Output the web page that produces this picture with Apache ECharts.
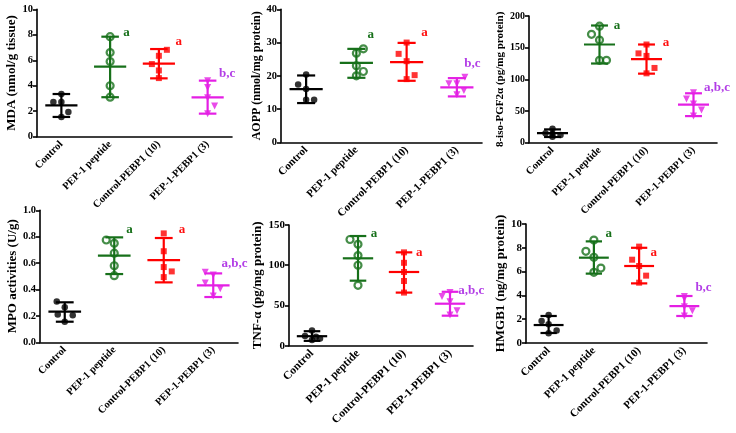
<!DOCTYPE html>
<html><head><meta charset="utf-8">
<script src="https://cdn.jsdelivr.net/npm/echarts@6/dist/echarts.min.js"></script>
<style>html,body{margin:0;padding:0;background:#fff}#c{width:736px;height:433px}</style>
</head><body><div id="c"></div>
<script>
// ---------------- DATA ----------------
const categories = ['Control', 'PEP-1 peptide', 'Control-PEBP1 (10)', 'PEP-1-PEBP1 (3)'];

const mdaPoints = [[3.35, 2.72, 2.72, 1.94, 1.55], [7.85, 6.6, 5.9, 4.0, 3.1], [6.82, 6.35, 5.7, 5.2, 4.6], [4.4, 3.87, 3.05, 2.41, 1.81]];
const mdaMean = [2.46, 5.5, 5.73, 3.09];
const mdaLow = [1.55, 3.1, 4.58, 1.81];
const mdaHigh = [3.35, 7.85, 6.88, 4.4];
const mdaLetters = ['', 'a', 'a', 'b,c'];

const aoppPoints = [[20.4, 17.4, 16.0, 12.8, 12.8], [28.1, 26.8, 23.0, 21.3, 20.0], [30.0, 26.6, 24.4, 20.2, 19.0], [19.6, 17.6, 17.6, 15.6, 14.3]];
const aoppMean = [16.0, 23.9, 24.1, 16.5];
const aoppLow = [11.8, 19.4, 18.5, 13.8];
const aoppHigh = [20.1, 28.1, 29.9, 19.3];
const aoppLetters = ['', 'a', 'a', 'b,c'];

const isoPoints = [[22, 15, 14, 12, 9.5], [184, 171, 162, 130, 130], [155, 141, 137, 118, 109.5], [79, 69, 61, 51.6, 42]];
const isoMean = [15, 155, 132, 60];
const isoLow = [9, 125, 109, 42];
const isoHigh = [21, 185, 155, 78];
const isoLetters = ['', 'a', 'a', 'a,b,c'];

const mpoPoints = [[0.31, 0.265, 0.21, 0.205, 0.155], [0.775, 0.75, 0.675, 0.58, 0.505], [0.825, 0.69, 0.57, 0.537, 0.494], [0.53, 0.51, 0.45, 0.405, 0.35]];
const mpoMean = [0.232, 0.656, 0.622, 0.431];
const mpoLow = [0.156, 0.517, 0.454, 0.343];
const mpoHigh = [0.303, 0.795, 0.79, 0.522];
const mpoLetters = ['', 'a', 'a', 'a,b,c'];

const tnfPoints = [[19, 12, 11, 9, 7], [132, 126, 112, 100, 75], [116, 103, 91.6, 80.4, 66], [66, 61, 54.7, 43.5, 38]];
const tnfMean = [11.8, 108.6, 91.6, 52.2];
const tnfLow = [6, 80.8, 66, 37.3];
const tnfHigh = [18, 136.3, 116, 67];
const tnfLetters = ['', 'a', 'a', 'a,b,c'];

const hmgPoints = [[2.35, 1.85, 1.57, 1.06, 0.81], [8.65, 7.7, 7.2, 6.3, 5.94], [8.1, 7.0, 6.47, 5.66, 5.07], [3.9, 3.75, 3.05, 2.72, 2.27]];
const hmgMean = [1.51, 7.17, 6.47, 3.1];
const hmgLow = [0.84, 5.83, 5.01, 2.27];
const hmgHigh = [2.27, 8.54, 8.0, 3.95];
const hmgLetters = ['', 'a', 'a', 'b,c'];

const axisNames = ['MDA (nmol/g tissue)', 'AOPP (nmol/mg protein)', '8-iso-PGF2\u03b1 (pg/mg protein)', 'MPO activities (U/g)', 'TNF-\u03b1 (pg/mg protein)', 'HMGB1 (ng/mg protein)'];
const yMaxes = [10, 40, 200, 1.0, 150, 10];
const yIntervals = [2, 10, 50, 0.2, 50, 2];
const yDecimals = [0, 0, 0, 1, 0, 0];

// ---------------- LAYOUT / STYLE ----------------
const FONT = '"Liberation Serif", "Times New Roman", serif';
const groupColors = ['#000000', '#17701a', '#ff0000', '#e41fe4'];
const letterColors = ['#000000', '#17701a', '#ff1010', '#b23de6'];
const symbols = ['circle', 'circle', 'rect', 'triangle'];
const symbolSizes = [6.5, 7, 6, 7];
const symbolRotates = [0, 0, 0, 180];

const grids = [
  {left: 37, top: 9.3, width: 195, height: 127.4},
  {left: 281, top: 9.3, width: 201, height: 133},
  {left: 529, top: 16, width: 188, height: 126.7},
  {left: 40, top: 210.3, width: 198, height: 132},
  {left: 289, top: 225, width: 184, height: 120.7},
  {left: 526, top: 224, width: 181, height: 119}
];
const nameSizes = [13, 12, 11, 13, 13, 13];
const nameGaps = [18, 18, 22, 20, 25, 19];
const catFontSizes = [10.5, 11, 10.5, 10.5, 11.5, 11];
const tickFontSizes = [10.5, 10.5, 10, 10.5, 11, 11];

const jitters = [
  [[0, -8, 0, 7, 0], [0, 0, 0, 0, 0], [8, 0, -7, 0, 0], [0, 0, 0, 7, 0]],
  [[0, -8, 0, 0, 8], [7, 0, 0, 7, 0], [0, -8, 0, 8, 0], [8, -8, 0, 7, 0]],
  [[0, -7, 0, 8, 0], [0, -8, 0, 0, 7], [0, -8, 0, 8, 0], [0, -7, 0, 8, 0]],
  [[-8, 0, -7, 8, 0], [-8, 0, 0, 0, 0], [0, 0, 0, 8, 0], [-8, 0, -8, 7, 0]],
  [[0, -7, 4, 8, 0], [-8, 0, 0, 0, 0], [0, 0, 0, 0, 0], [0, -8, 0, 7, 0]],
  [[0, -7, 0, 8, 0], [0, -8, 0, 7, 0], [0, -7, 0, 7, 0], [0, 0, 0, 8, 0]]
];
const letterOffsets = [
  [[0, 0], [13, -4], [16.6, -7], [11.4, -6.7]],
  [[0, 0], [11, -14], [14.6, -10], [7.3, -14]],
  [[0, 0], [14.3, 0], [16.3, -2], [10.6, -5.7]],
  [[0, 0], [12, -8], [15, -8.7], [8.3, -10]],
  [[0, 0], [12.7, -2], [12, 0], [8.3, -1]],
  [[0, 0], [11.7, -8], [11.4, 4.7], [11, -8.3]]
];

// ---------------- BUILD ----------------
const panels = [
  [mdaPoints, mdaMean, mdaLow, mdaHigh, mdaLetters],
  [aoppPoints, aoppMean, aoppLow, aoppHigh, aoppLetters],
  [isoPoints, isoMean, isoLow, isoHigh, isoLetters],
  [mpoPoints, mpoMean, mpoLow, mpoHigh, mpoLetters],
  [tnfPoints, tnfMean, tnfLow, tnfHigh, tnfLetters],
  [hmgPoints, hmgMean, hmgLow, hmgHigh, hmgLetters]
];

const xAxes = [], yAxes = [], series = [];
panels.forEach((pd, p) => {
  const [pts, mean, low, high, letters] = pd;
  xAxes.push({
    type: 'category', gridIndex: p, data: categories, boundaryGap: true,
    axisLine: {lineStyle: {color: '#000', width: 1.6}},
    axisTick: {alignWithLabel: true, length: 4, lineStyle: {color: '#000', width: 1.6}},
    axisLabel: {rotate: 45, interval: 0, margin: 6, color: '#000', fontFamily: FONT, fontWeight: 'bold', fontSize: catFontSizes[p]},
    splitLine: {show: false}
  });
  yAxes.push({
    type: 'value', gridIndex: p, min: 0, max: yMaxes[p], interval: yIntervals[p],
    axisLine: {show: true, lineStyle: {color: '#000', width: 1.6}},
    axisTick: {show: true, length: 4, lineStyle: {color: '#000', width: 1.6}},
    axisLabel: {margin: 4, color: '#000', fontFamily: FONT, fontWeight: 'bold', fontSize: tickFontSizes[p],
      formatter: v => Number(v).toFixed(yDecimals[p])},
    splitLine: {show: false},
    name: axisNames[p], nameLocation: 'middle', nameGap: nameGaps[p],
    nameTextStyle: {color: '#000', fontFamily: FONT, fontWeight: 'bold', fontSize: nameSizes[p]}
  });
  for (let g = 0; g < 4; g++) {
    const isRing = g === 1;
    series.push({
      type: 'scatter', xAxisIndex: p, yAxisIndex: p, z: 3,
      symbol: symbols[g], symbolSize: symbolSizes[g], symbolRotate: symbolRotates[g],
      itemStyle: isRing ? {color: 'rgba(255,255,255,0)', borderColor: groupColors[g], borderWidth: 2.2}
                        : {color: groupColors[g]},
      data: pts[g].map((v, k) => ({value: [g, v], symbolOffset: [jitters[p][g][k], 0]})),
      silent: true
    });
  }
  series.push({
    type: 'custom', xAxisIndex: p, yAxisIndex: p, z: 2, silent: true,
    data: mean.map((m, g) => [g, m, low[g], high[g]]),
    renderItem: (params, api) => {
      const g = api.value(0);
      const m = api.coord([g, api.value(1)]);
      const lo = api.coord([g, api.value(2)]);
      const hi = api.coord([g, api.value(3)]);
      const band = api.size([1, 0])[0];
      const mw = band * 0.33, cw = band * 0.18;
      const st = {stroke: groupColors[g], lineWidth: 2.2, fill: null};
      return {type: 'group', children: [
        {type: 'line', shape: {x1: m[0], y1: hi[1], x2: m[0], y2: lo[1]}, style: st},
        {type: 'line', shape: {x1: m[0] - cw, y1: hi[1], x2: m[0] + cw, y2: hi[1]}, style: st},
        {type: 'line', shape: {x1: m[0] - cw, y1: lo[1], x2: m[0] + cw, y2: lo[1]}, style: st},
        {type: 'line', shape: {x1: m[0] - mw, y1: m[1], x2: m[0] + mw, y2: m[1]}, style: st}
      ]};
    }
  });
  series.push({
    type: 'custom', xAxisIndex: p, yAxisIndex: p, z: 4, silent: true,
    data: high.map((h, g) => [g, h]),
    renderItem: (params, api) => {
      const g = api.value(0);
      const txt = letters[g];
      if (!txt) return null;
      const c = api.coord([g, api.value(1)]);
      const off = letterOffsets[p][g];
      return {type: 'text', x: c[0] + off[0], y: c[1] + off[1],
        style: {text: txt, fill: letterColors[g], font: 'bold 13px ' + FONT, align: 'left', verticalAlign: 'middle'}};
    }
  });
});

const chart = echarts.init(document.getElementById('c'), null, {renderer: 'canvas'});
chart.setOption({
  animation: false,
  backgroundColor: '#fff',
  grid: grids.map(g => Object.assign({containLabel: false}, g)),
  xAxis: xAxes,
  yAxis: yAxes,
  series: series
});
</script>
</body></html>
